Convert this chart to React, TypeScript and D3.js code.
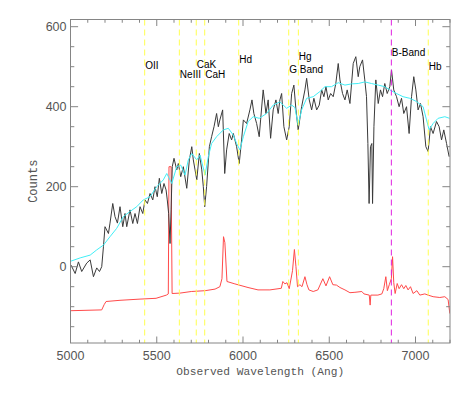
import React from "react";
import * as d3 from "d3";

// ---- data ----
const objWave = [5003,5027,5046,5065,5094,5114,5133,5152,5168,5181,5191,5200,5220,5229,5245,5258,5272,5287,5303,5316,5326,5345,5361,5374,5388,5403,5419,5432,5446,5461,5477,5490,5503,5515,5529,5542,5554,5561,5569,5577,5583,5590,5600,5616,5625,5639,5654,5674,5689,5703,5712,5722,5732,5747,5761,5770,5778,5789,5805,5818,5832,5847,5857,5866,5882,5894,5905,5920,5934,5944,5963,5978,5992,6002,6021,6040,6052,6063,6079,6094,6102,6117,6133,6146,6160,6175,6191,6204,6214,6224,6237,6253,6268,6282,6295,6307,6320,6340,6359,6369,6384,6398,6411,6427,6442,6456,6469,6481,6494,6508,6523,6538,6552,6562,6577,6591,6604,6620,6639,6654,6668,6677,6693,6706,6716,6724,6731,6739,6747,6751,6759,6770,6784,6797,6809,6822,6836,6851,6861,6874,6890,6905,6919,6932,6948,6963,6977,6990,7002,7015,7029,7044,7060,7073,7087,7102,7122,7137,7151,7164,7180,7195];
const objCounts = [4,-17,12,-12,9,17,-25,-3,-12,0,50,100,83,109,158,125,109,150,100,133,100,142,108,133,108,150,133,167,158,183,167,200,175,221,183,208,192,167,133,58,142,250,271,242,258,225,250,196,267,300,267,242,217,283,242,200,150,200,300,325,350,383,350,367,392,233,292,333,317,333,300,258,317,367,358,392,417,383,358,325,367,442,383,417,321,392,417,383,417,433,350,317,350,433,454,392,342,400,442,471,417,392,421,392,404,442,425,450,417,433,425,458,508,467,433,417,442,408,508,525,475,500,517,467,425,308,158,300,308,158,350,467,408,442,425,458,433,450,492,442,425,400,421,383,400,333,425,475,442,392,408,375,300,288,350,333,363,350,317,342,308,275];

const tmplWave = [5003,5056,5114,5152,5191,5229,5268,5306,5345,5384,5422,5461,5500,5538,5558,5587,5616,5639,5664,5683,5703,5732,5751,5780,5799,5818,5847,5886,5915,5944,5963,5982,6002,6030,6059,6094,6137,6175,6214,6253,6282,6301,6320,6340,6369,6407,6446,6475,6513,6552,6591,6629,6668,6706,6745,6784,6822,6851,6890,6928,6967,7006,7044,7064,7079,7102,7131,7170,7197];
const tmplCounts = [14,22,29,42,54,75,96,125,138,150,167,175,200,217,233,208,250,254,229,267,283,267,279,229,275,308,325,342,346,329,308,292,325,363,375,371,383,404,412,396,404,398,354,392,421,425,438,450,450,460,454,457,458,462,458,454,450,442,433,425,421,413,400,367,342,358,371,375,371];

const skyWave = [5003,5181,5195,5206,5287,5403,5496,5556,5567,5571,5583,5589,5635,5700,5780,5838,5866,5878,5887,5895,5907,5953,6029,6087,6156,6222,6231,6243,6255,6268,6287,6298,6307,6316,6330,6342,6359,6371,6382,6407,6434,6463,6481,6502,6521,6542,6562,6591,6620,6649,6689,6701,6732,6737,6741,6782,6805,6816,6828,6837,6848,6860,6867,6874,6882,6894,6905,6919,6932,6944,6957,6971,6986,7008,7025,7054,7073,7102,7141,7170,7189,7199];
const skyCounts = [-110,-108,-95,-87,-84,-81,-79,-71,-68,250,250,-67,-66,-62,-60,-56,-50,-30,75,60,-37,-43,-52,-58,-58,-54,-37,-43,-40,-55,-10,43,0,-50,-45,-50,-25,-45,-58,-62,-58,-30,-48,-25,-45,-46,-52,-58,-65,-64,-62,-68,-71,-96,-71,-71,-68,-55,-25,-60,-45,-30,25,-40,-67,-42,-55,-45,-55,-47,-58,-50,-67,-60,-71,-68,-71,-75,-77,-75,-82,-117];

const lineNames = ["OII", "NeIII", "CaK", "CaH", "Hd", "G Band", "Hg", "B-Band", "Hb"];
const lineWaves = [5430, 5631, 5729, 5778, 5975, 6265, 6321, 6860, 7074];
const lineLabelCounts = [495, 473, 498, 473, 510, 485, 518, 528, 493];
const lineIsTelluric = [false, false, false, false, false, false, false, true, false];

const xMajorTicks = [5000, 5500, 6000, 6500, 7000];
const yMajorTicks = [0, 200, 400, 600];

// ---- layout ----
const W = 474, H = 404;
const L = 70.5, R = 450, T = 19.5, B = 343;

export default function App() {
  const x = d3.scaleLinear().domain([5000, 7200]).range([L, R]);
  const y = d3.scaleLinear().domain([-190.75, 618]).range([B, T]);

  const mk = (wv: number[], ct: number[]) =>
    d3.line<number>().x((_, i) => x(wv[i])).y((_, i) => y(ct[i]))(wv) || "";

  const xMinor = d3.range(5000, 7201, 100).filter((v) => v % 500 !== 0);
  const yMinor = d3.range(-150, 601, 50).filter((v) => v % 200 !== 0);
  const xTL = 6.5, yTL = 7.6;
  const axisCol = "#858585";
  const textCol = "#555";

  return (
    <svg width={W} height={H} style={{ position: "absolute", left: 0, top: 0, background: "#fff" }}>
      <defs>
        <clipPath id="plotclip">
          <rect x={L} y={T} width={R - L} height={B - T} />
        </clipPath>
      </defs>
      <g clipPath="url(#plotclip)" fill="none">
        <path d={mk(skyWave, skyCounts)} stroke="#ff4a4a" strokeWidth={1} />
        <path d={mk(objWave, objCounts)} stroke="#3a3a3a" strokeWidth={1} />
        <path d={mk(tmplWave, tmplCounts)} stroke="#40eef6" strokeWidth={1} />
        {lineWaves.map((w, i) => (
          <line key={i} x1={x(w)} x2={x(w)} y1={T} y2={B}
            stroke={lineIsTelluric[i] ? "#e020e0" : "#ffff50"}
            strokeWidth={1} strokeDasharray="6,4" />
        ))}
      </g>
      {lineNames.map((n, i) => (
        <text key={n} x={x(lineWaves[i]) + 0.5} y={y(lineLabelCounts[i])}
          fontFamily="Liberation Sans, Arial, sans-serif" fontSize={10} fill="#000">{n}</text>
      ))}
      {/* frame */}
      <rect x={L} y={T} width={R - L} height={B - T} fill="none" stroke={axisCol} strokeWidth={1} />
      {/* x ticks */}
      {xMajorTicks.map((v) => (
        <g key={"xm" + v}>
          <line x1={x(v)} x2={x(v)} y1={B} y2={B - xTL} stroke={axisCol} />
          <line x1={x(v)} x2={x(v)} y1={T} y2={T + xTL} stroke={axisCol} />
          <text x={x(v)} y={B + 16.5} textAnchor="middle" fontFamily="Liberation Sans, Arial, sans-serif"
            fontSize={12.5} fill={textCol}>{v}</text>
        </g>
      ))}
      {xMinor.map((v) => (
        <g key={"xn" + v}>
          <line x1={x(v)} x2={x(v)} y1={B} y2={B - xTL / 2} stroke={axisCol} />
          <line x1={x(v)} x2={x(v)} y1={T} y2={T + xTL / 2} stroke={axisCol} />
        </g>
      ))}
      {/* y ticks */}
      {yMajorTicks.map((v) => (
        <g key={"ym" + v}>
          <line x1={L} x2={L + yTL} y1={y(v)} y2={y(v)} stroke={axisCol} />
          <line x1={R} x2={R - yTL} y1={y(v)} y2={y(v)} stroke={axisCol} />
          <text x={L - 4} y={y(v) + 4.5} textAnchor="end" fontFamily="Liberation Sans, Arial, sans-serif"
            fontSize={12.5} fill={textCol}>{v}</text>
        </g>
      ))}
      {yMinor.map((v) => (
        <g key={"yn" + v}>
          <line x1={L} x2={L + yTL / 2} y1={y(v)} y2={y(v)} stroke={axisCol} />
          <line x1={R} x2={R - yTL / 2} y1={y(v)} y2={y(v)} stroke={axisCol} />
        </g>
      ))}
      <text x={(L + R) / 2} y={375} textAnchor="middle" fontFamily="Liberation Mono, Courier New, monospace"
        fontSize={11.2} fill={textCol}>Observed Wavelength (Ang)</text>
      <text transform={`translate(36.5,${(T + B) / 2}) rotate(-90)`} textAnchor="middle"
        fontFamily="Liberation Mono, Courier New, monospace" fontSize={12} fill={textCol}>Counts</text>
    </svg>
  );
}
